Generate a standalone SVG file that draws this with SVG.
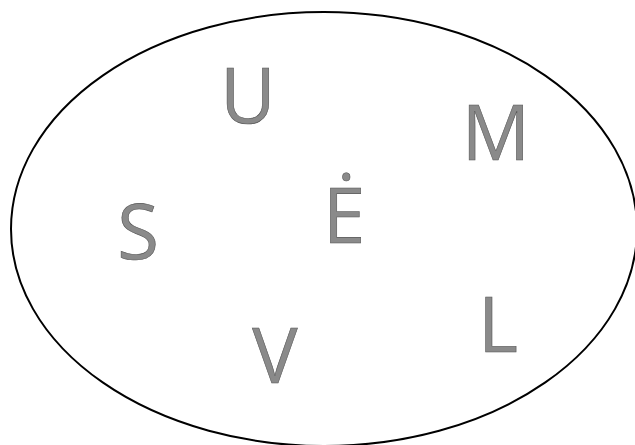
<svg xmlns="http://www.w3.org/2000/svg" width="635" height="445" viewBox="0 0 635 445">
<style>
.ltr{font-family:"Open Sans","Liberation Sans",sans-serif;font-size:76px;fill:#8a8a8a;stroke:#555;stroke-width:0.6;text-anchor:middle}
</style>
<rect width="635" height="445" fill="#fff"/>
<g id="boundary">
<ellipse cx="324" cy="229" rx="313" ry="217" fill="none" stroke="#000" stroke-width="2"/>
</g>
<g id="connectors"></g>
<g id="node-U"><text class="ltr" x="248" y="123">U</text></g>
<g id="node-M"><text class="ltr" x="496" y="160">M</text></g>
<g id="node-S"><text class="ltr" x="138" y="259">S</text></g>
<g id="node-E"><text class="ltr" x="344" y="243">Ė</text></g>
<g id="node-V"><text class="ltr" x="275" y="383">V</text></g>
<g id="node-L"><text class="ltr" x="498" y="352">L</text></g>
</svg>
